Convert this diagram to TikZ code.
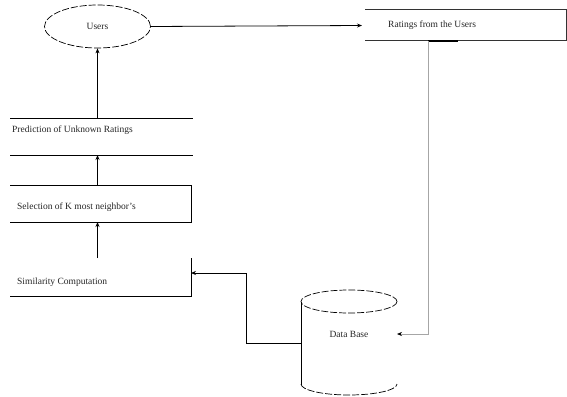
\documentclass[tikz,border=0pt]{standalone}
\usepackage{fontspec}
\setmainfont{Liberation Serif}
\usetikzlibrary{shapes.geometric,arrows.meta,calc}
\begin{document}
\begin{tikzpicture}[x=1pt,y=-1pt,
  line/.style={line width=0.8pt,black},
  dsh/.style={line width=0.7pt,dash pattern=on 7pt off 2pt},
  arr/.style={line width=0.8pt,-{Stealth[length=5pt,width=4pt]}},
  grayarr/.style={line width=0.7pt,gray!70,-{Stealth[length=5pt,width=4pt,black]}},
  frame/.style={inner sep=0pt,outer sep=0pt},
  lbl/.style={font=\fontsize{9.5}{11}\selectfont,anchor=west,inner sep=0pt,text=black!85}]
\useasboundingbox[fill=white] (0,0) rectangle (567,396);
% Users
\node[ellipse,draw,dsh,minimum width=106pt,minimum height=43pt,font=\fontsize{9.5}{11}\selectfont,text=black!85] (users) at (97.5,26.5) {Users};
% Ratings from the users
\node[frame,minimum width=201pt,minimum height=31pt] (ratings) at (465.5,25.5) {};
\draw[line width=1pt,black!80] (ratings.north west) -- (ratings.north east) -- (ratings.south east) -- (ratings.south west);
\node[lbl] (ratingstxt) at (388,25) {Ratings from the Users};
\coordinate (rdrop) at (428,41);
\coordinate (rdropend) at (458,41);
\draw[line width=1.6pt] (rdrop) -- (rdropend);
% Prediction
\node[frame,minimum width=183pt,minimum height=37pt] (pred) at (101.5,136.5) {};
\draw[line] (pred.north west) -- (pred.north east);
\draw[line] (pred.south west) -- (pred.south east);
\node[lbl] (predtxt) at (12,130) {Prediction of Unknown Ratings};
% Selection
\node[frame,minimum width=181pt,minimum height=37pt] (sel) at (100.5,203.5) {};
\draw[line] (sel.north west) -- (sel.north east) -- (sel.south east) -- (sel.south west);
\node[lbl] (seltxt) at (17,207) {Selection of K most neighbor's};
% Similarity
\node[frame,minimum width=181pt,minimum height=38pt] (sim) at (100.5,277) {};
\draw[line] (sim.north east) -- (sim.south east) -- (sim.south west);
\node[lbl] (simtxt) at (17,282) {Similarity Computation};
% Data base cylinder
\draw[dsh] (349,301.5) ellipse [x radius=48,y radius=11.5];
\draw[line] (301,301.5) -- (301,385);
\draw[dsh] (301,384) arc[start angle=180,end angle=0,x radius=48,y radius=11];
\node[frame,minimum width=96pt,minimum height=20pt,font=\fontsize{9.5}{11}\selectfont,text=black!85] (db) at (349,334) {Data Base};
\coordinate (dbl) at (301,343);
\coordinate (dbmid) at (246,343);
\coordinate (simin) at (191,273);
% Connectors
\draw[arr] (users.south |- pred.north) -- (users.south);
\draw[arr] (users.south |- sel.north) -- (users.south |- pred.south);
\draw[arr] (users.south |- sim.north) -- (users.south |- sel.south);
\draw[arr] (users.east) -- ([xshift=-3pt]ratings.west);
\draw[grayarr] (rdrop) |- (db.east);
\draw[line] (dbl) -- (dbmid);
\draw[arr] (dbmid) |- (simin);
\end{tikzpicture}
\end{document}
